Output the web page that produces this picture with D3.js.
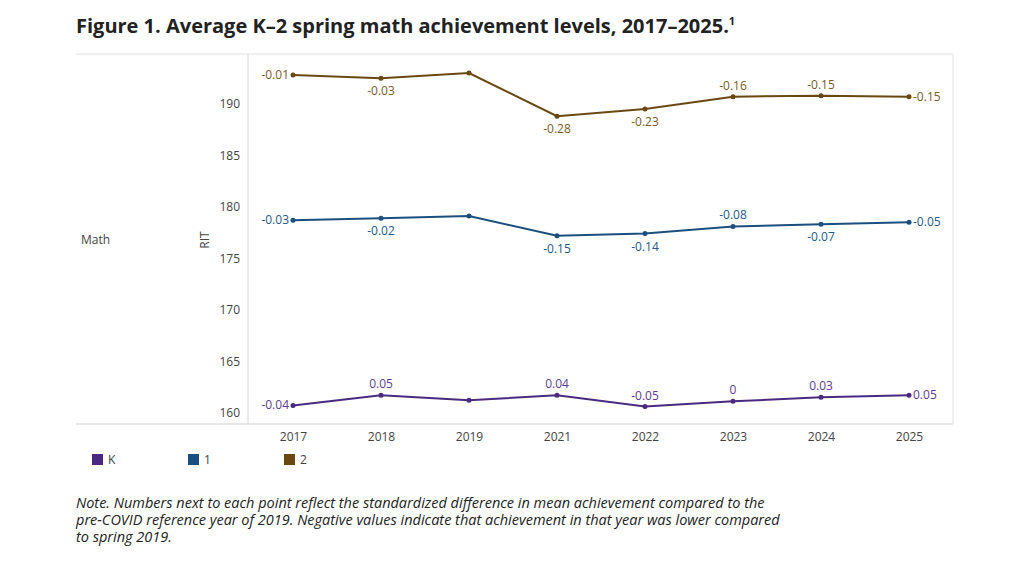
<!DOCTYPE html>
<html><head><meta charset="utf-8">
<script src="https://cdn.jsdelivr.net/npm/d3@7"></script>
<style>body{margin:0;background:#fff;font-family:"Open Sans",sans-serif;}</style>
</head><body>
<svg id="chart" width="1024" height="564"></svg>
<script>
const years = ['2017', '2018', '2019', '2021', '2022', '2023', '2024', '2025'];
const gradeK = [160.7, 161.7, 161.2, 161.7, 160.6, 161.1, 161.5, 161.7];
const grade1 = [178.7, 178.9, 179.1, 177.2, 177.4, 178.1, 178.3, 178.5];
const grade2 = [192.8, 192.5, 193.0, 188.8, 189.5, 190.7, 190.8, 190.7];
const labelsK = ['-0.04', '0.05', '', '0.04', '-0.05', '0', '0.03', '0.05'];
const labels1 = ['-0.03', '-0.02', '', '-0.15', '-0.14', '-0.08', '-0.07', '-0.05'];
const labels2 = ['-0.01', '-0.03', '', '-0.28', '-0.23', '-0.16', '-0.15', '-0.15'];
// label placement: l=left, r=right, a=above, b=below
const posK = ['l', 'a', '', 'a', 'a', 'a', 'a', 'r'];
const pos1 = ['l', 'b', '', 'b', 'b', 'a', 'b', 'r'];
const pos2 = ['l', 'b', '', 'b', 'b', 'a', 'a', 'r'];
const yTicks = [160, 165, 170, 175, 180, 185, 190];

const series = [
  { name: 'K', values: gradeK, labels: labelsK, pos: posK, color: '#4a2a80', text: '#5b3b94' },
  { name: '1', values: grade1, labels: labels1, pos: pos1, color: '#1b4f7f', text: '#24598a' },
  { name: '2', values: grade2, labels: labels2, pos: pos2, color: '#6a4812', text: '#7a5a28' },
];

const svg = d3.select('#chart');
const pLeft = 248, pRight = 953, pTop = 54, pBottom = 424;

svg.append('text').attr('x', 76).attr('y', 33)
  .attr('font-size', 20).attr('font-weight', 700).attr('fill', '#222')
  .text('Figure 1. Average K–2 spring math achievement levels, 2017–2025.')
  .append('tspan').attr('font-size', 11).attr('dy', -8).text('1');

const x = d3.scalePoint().domain(years).range([293, 909]);
const y = d3.scaleLinear().domain([158.9, 194.85]).range([pBottom, pTop]);

// frame
svg.append('line').attr('x1', 76).attr('x2', pRight).attr('y1', pTop).attr('y2', pTop).attr('stroke', '#e2e2e2');
svg.append('line').attr('x1', 76).attr('x2', pRight).attr('y1', pBottom).attr('y2', pBottom).attr('stroke', '#cfcfcf');
svg.append('line').attr('x1', pLeft).attr('x2', pLeft).attr('y1', pTop).attr('y2', pBottom).attr('stroke', '#d8d8d8');
svg.append('line').attr('x1', pRight).attr('x2', pRight).attr('y1', pTop).attr('y2', pBottom).attr('stroke', '#e2e2e2');

svg.append('g').attr('transform', `translate(${pLeft - 4},0)`)
  .call(d3.axisLeft(y).tickValues(yTicks).tickSize(0).tickPadding(4))
  .call((g) => g.select('.domain').remove())
  .selectAll('text').attr('font-size', 12).attr('fill', '#444').attr('font-family', 'Open Sans');

svg.append('g').attr('transform', `translate(0,${pBottom})`)
  .call(d3.axisBottom(x).tickSize(0).tickPadding(8))
  .call((g) => g.select('.domain').remove())
  .selectAll('text').attr('font-size', 12).attr('fill', '#444').attr('font-family', 'Open Sans');

svg.append('text').attr('x', 81).attr('y', 244).attr('font-size', 12).attr('fill', '#444').text('Math');
svg.append('text').attr('transform', 'translate(209,240) rotate(-90)').attr('text-anchor', 'middle')
  .attr('font-size', 12).attr('fill', '#444').text('RIT');

const line = d3.line().x((d, i) => x(years[i])).y((d) => y(d));

series.forEach((s) => {
  const g = svg.append('g');
  g.append('path').datum(s.values).attr('d', line).attr('fill', 'none')
    .attr('stroke', s.color).attr('stroke-width', 2);
  g.selectAll('circle').data(s.values).join('circle')
    .attr('cx', (d, i) => x(years[i])).attr('cy', (d) => y(d)).attr('r', 2.5).attr('fill', s.color);
  g.selectAll('text').data(s.values).join('text')
    .attr('font-size', 12).attr('fill', s.text)
    .attr('x', (d, i) => x(years[i]) + (s.pos[i] === 'l' ? -4 : s.pos[i] === 'r' ? 4 : 0))
    .attr('y', (d, i) => y(d) + (s.pos[i] === 'a' ? -7 : s.pos[i] === 'b' ? 17 : 4))
    .attr('text-anchor', (d, i) => (s.pos[i] === 'l' ? 'end' : s.pos[i] === 'r' ? 'start' : 'middle'))
    .text((d, i) => s.labels[i]);
});

// legend
series.forEach((s, i) => {
  const lx = 92 + i * 96;
  svg.append('rect').attr('x', lx).attr('y', 454).attr('width', 11).attr('height', 11).attr('fill', s.color);
  svg.append('text').attr('x', lx + 16).attr('y', 464).attr('font-size', 12).attr('fill', '#444').text(s.name);
});

const note = [
  'Note. Numbers next to each point reflect the standardized difference in mean achievement compared to the',
  'pre-COVID reference year of 2019. Negative values indicate that achievement in that year was lower compared',
  'to spring 2019.',
];
svg.append('g').selectAll('text').data(note).join('text')
  .attr('x', 76).attr('y', (d, i) => 508 + i * 17).attr('font-size', 14.5)
  .attr('font-style', 'italic').attr('fill', '#222').text((d) => d);
</script>
</body></html>
